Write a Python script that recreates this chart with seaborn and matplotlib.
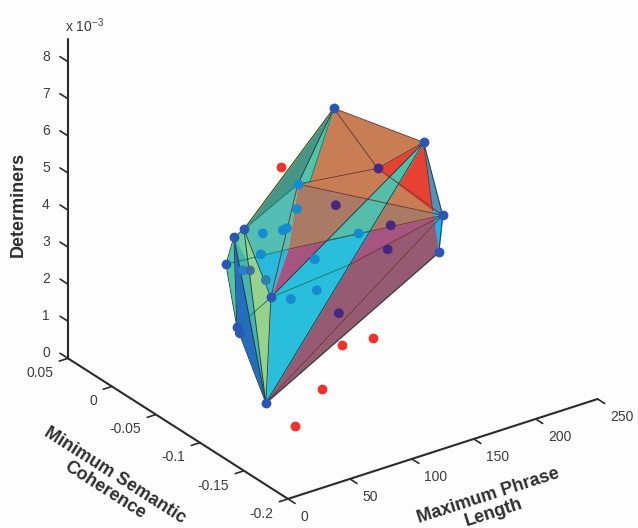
"""Convex hull of the feature space, redrawn as a 3D view."""

import matplotlib
matplotlib.use("Agg")
import matplotlib.pyplot as plt
import seaborn as sns
from mpl_toolkits.mplot3d.art3d import Poly3DCollection

# hull corners and facet break points: name -> phrase length, coherence, determiners (x 1e-3)
corner_names = ["A", "B", "C", "D", "E", "F", "G", "H", "I", "K", "P", "Q", "R",
                "Z", "X", "X1", "X2", "X3", "L", "Q2", "T"]
corner_x = [120, 200, 200, 200, 40, 60, 60, 60, 60, 80, 160, 80, 80,
            200, 80, 120, 160, 120, 80, 120, 60]
corner_y = [-0.0832, -0.0727, -0.0943, -0.0898, -0.1186, -0.0655, -0.0541, -0.045, -0.0575, -0.068, -0.0768, -0.0986, -0.0566,
            -0.083, -0.0873, -0.0764, -0.0677, -0.1002, -0.0486, -0.0559, -0.0677]
corner_z = [7.47, 5.53, 3.89, 2.82, 0.92, 4.585, 4.20, 3.33, 1.82, 2.57, 5.32, 6.09, 3.56,
            3.85, 4.16, 3.81, 3.49, 3.50, 3.39, 5.06, 3.84]

# painted back to front
facets = [
    ("E", "C", "D"), ("K", "C", "E"), ("X", "X1", "K"), ("X2", "C", "X3"),
    ("Q", "C", "X"), ("F", "Q", "X", "L"), ("L", "X", "K"), ("A", "F", "Q"),
    ("A", "B", "P"), ("A", "P", "Q"), ("Q", "P", "C"), ("A", "Q", "Q2"),
    ("P", "B", "Z"), ("B", "C", "Z"), ("Z", "C", "D"),
    ("B", "E", "K"), ("B", "X1", "X2"),
    ("H", "G", "I"), ("F", "K", "E"), ("G", "F", "E"), ("G", "I", "E"), ("G", "F", "T"),
]
facet_colors = sns.color_palette([
    "#965a73", "#965a73", "#a5557f", "#a5557f",
    "#aa7a64", "#55beb4", "#28b9dc", "#469687",
    "#c87d55", "#c87d55", "#c87d55", "#55c3aa",
    "#e64132", "#5091be", "#1eb4eb",
    "#28bedc", "#55beaa",
    "#55c3a5", "#96d28c", "#4bb4aa", "#236ebe", "#6ecda0",
])

brown_edges = [("A", "P"), ("Q", "P"), ("Q", "C"), ("P", "C"), ("X", "C"), ("E", "C"),
               ("X3", "C"), ("Q", "K"), ("A", "B"), ("P", "B"), ("B", "Z")]
teal_edges = [("H", "X"), ("X1", "X2"), ("I", "K"), ("K", "X3"), ("F", "Q"), ("A", "Q2"), ("Q", "Q2")]
dark_edges = [("A", "F"), ("A", "Q"), ("B", "C"), ("C", "D"), ("D", "E"), ("B", "E"), ("B", "K"),
              ("H", "G"), ("H", "I"), ("I", "E"), ("G", "I"), ("G", "E"), ("F", "E"),
              ("F", "K"), ("K", "E"), ("G", "F")]

# samples inside the hull, colour as seen through the facets
inner_x = [60, 60, 80, 80, 80, 80, 80, 80, 120, 120, 120, 120, 160, 160, 160, 80, 60]
inner_y = [-0.0643, -0.0723, -0.0589, -0.0623, -0.0816, -0.0861, -0.0907, -0.0975, -0.0616, -0.0639, -0.0855, -0.0889,
           -0.0552, -0.0916, -0.0882, -0.0566, -0.0609]
inner_z = [3.46, 3.58, 4.16, 2.95, 4.59, 4.71, 2.87, 5.40, 3.07, 2.27, 4.89, 2.03, 3.24, 4.01, 3.31, 3.56, 1.71]
inner_colors = ["#2882c8", "#3c6ea0", "#148cd2", "#327fa8", "#148cd2", "#148cd2", "#148cd2", "#148cd2",
                "#148cd2", "#148cd2", "#462882", "#462882", "#148cd2", "#462882", "#462882", "#148cd2", "#2a5ab4"]

hull_points = ["A", "B", "C", "D", "E", "F", "G", "H", "I", "K"]
purple_point = "P"
outer_q = "Q"

# samples left out of the hull
red_x = [80, 100, 140, 60, 40]
red_y = [-0.0793, -0.1205, -0.0993, -0.1541, -0.1516]
red_z = [6.25, 1.86, 1.30, 1.62, 0.80]

x_ticks = [0, 50, 100, 150, 200, 250]
y_ticks = [-0.2, -0.15, -0.1, -0.05, 0, 0.05]
y_tick_labels = ["-0.2", "-0.15", "-0.1", "-0.05", "0", "0.05"]
z_ticks = [0, 1, 2, 3, 4, 5, 6, 7, 8]

sns.set_theme(style="white")
plt.rcParams["font.family"] = ["Liberation Sans", "DejaVu Sans"]
plt.rcParams["mathtext.default"] = "regular"

AXIS_COLOR = "#2b2b2b"
TEXT_COLOR = "#3c3c3c"
TITLE_COLOR = "#2e2e2e"
BG = "#fdfdfe"


def corner(name):
    i = corner_names.index(name)
    return corner_x[i], corner_y[i], corner_z[i]


def draw_edges(ax, edges, color, lw, zorder):
    for a, b in edges:
        p, q = corner(a), corner(b)
        ax.plot([p[0], q[0]], [p[1], q[1]], [p[2], q[2]], color=color, lw=lw, zorder=zorder)


def axis_title(ax, x, y, z, label, direction):
    # Text3D takes its angle from zdir, so the title follows the projected axis
    t = ax.text(x, y, z, label, zdir=direction, ha="center", va="center", multialignment="center",
                fontsize=13, fontweight="bold", color=TITLE_COLOR, linespacing=1.05)
    t.set_rotation_mode("anchor")


def draw_axis_frame(ax):
    ax.plot([0, 250], [-0.2, -0.2], [0, 0], color=AXIS_COLOR, lw=1.5, zorder=1)
    ax.plot([0, 0], [-0.2, 0.05], [0, 0], color=AXIS_COLOR, lw=1.5, zorder=1)
    ax.plot([0, 0], [0.05, 0.05], [0, 8.6], color=AXIS_COLOR, lw=1.5, zorder=1)

    for v in x_ticks:
        ax.plot([v, v], [-0.2, -0.208], [0, 0], color=AXIS_COLOR, lw=1.2, zorder=1)
        ax.text(v, -0.214, -0.27, str(v), ha="left", va="center", fontsize=10, color=TEXT_COLOR)
    for v, label in zip(y_ticks, y_tick_labels):
        ax.plot([0, -7], [v, v], [0, 0], color=AXIS_COLOR, lw=1.2, zorder=1)
        ax.text(-12, v, -0.27, label, ha="right", va="center", fontsize=10, color=TEXT_COLOR)
    for v in z_ticks:
        ax.plot([0, 0], [0.05, 0.059], [v, v], color=AXIS_COLOR, lw=1.2, zorder=1)
        ax.text(0, 0.075, v - 0.24, str(v), ha="center", va="center", fontsize=10, color=TEXT_COLOR)

    ax.text(0, 0.0534, 8.92, r"x 10$^{-3}$", ha="left", va="center", fontsize=10, color=TEXT_COLOR)
    axis_title(ax, -82, -0.113, 0, "Minimum Semantic\nCoherence", "y")
    axis_title(ax, 102, -0.287, 0.08, "Maximum Phrase\nLength", "x")
    axis_title(ax, 0, 0.1068, 3.29, "Determiners", "z")


def main():
    fig = plt.figure(figsize=(6.38, 5.28), dpi=100, facecolor=BG)
    # axes box larger than the canvas so nothing gets clipped at its edge
    ax = fig.add_axes([-57.5 / 638, -81.5 / 528, 760 / 638, 760 / 528], projection="3d", computed_zorder=False)
    ax.set_proj_type("ortho")
    ax.view_init(elev=27, azim=-125.4)
    ax.set_box_aspect((380, 380, 358), zoom=0.8245)
    ax.set_axis_off()
    ax.patch.set_alpha(0)

    draw_axis_frame(ax)

    for i, (names, color) in enumerate(zip(facets, facet_colors)):
        poly = Poly3DCollection([[corner(n) for n in names]], facecolor=color,
                                edgecolor=color, linewidth=0.2, zorder=3 + i * 0.01)
        ax.add_collection3d(poly)

    draw_edges(ax, brown_edges, "#6e3a32", 0.7, 4)
    draw_edges(ax, teal_edges, "#14826e", 0.7, 4.1)
    draw_edges(ax, dark_edges, "#1c3a3a", 0.6, 4.2)
    ax.plot(*zip(corner("A"), corner("F")), color="#c8aa3c", lw=1.0, zorder=3.9)

    ax.scatter(inner_x, inner_y, inner_z, s=50, c=inner_colors, linewidths=0, depthshade=False, zorder=5)
    hx, hy, hz = zip(*[corner(n) for n in hull_points])
    ax.scatter(hx, hy, hz, s=50, c="#2858b4", linewidths=0, depthshade=False, zorder=5.1)
    ax.scatter(*corner(purple_point), s=50, c="#462882", linewidths=0, depthshade=False, zorder=5.1)
    ax.scatter(*corner(outer_q), s=50, c="#148cd2", linewidths=0, depthshade=False, zorder=5.1)
    ax.scatter(red_x, red_y, red_z, s=50, c="#f0322a", linewidths=0, depthshade=False, zorder=5.2)

    ax.set_xlim(0, 250)
    ax.set_ylim(-0.2, 0.05)
    ax.set_zlim(0, 8.6)

    fig.savefig("out.png", dpi=100, facecolor=BG)
    plt.close(fig)


if __name__ == "__main__":
    main()
